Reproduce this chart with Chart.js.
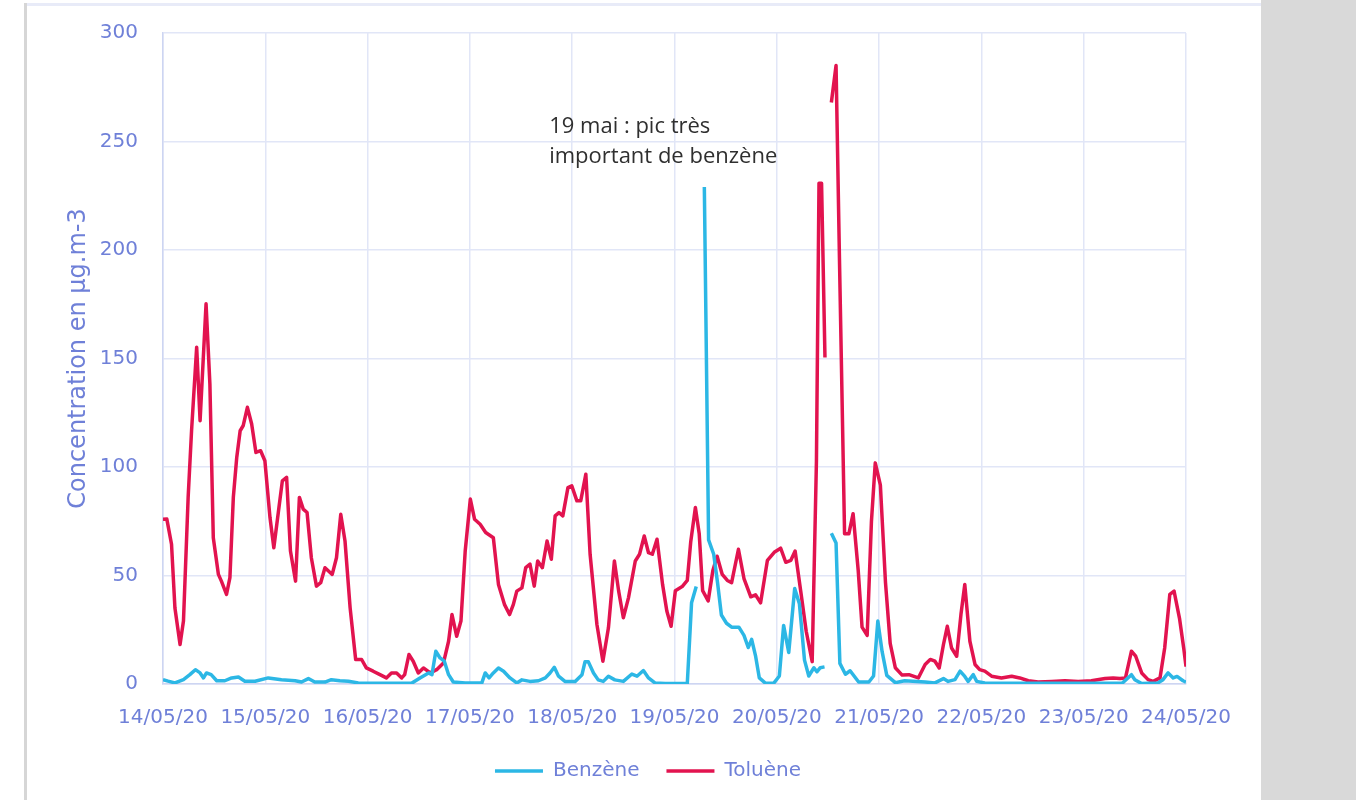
<!DOCTYPE html>
<html lang="fr">
<head>
<meta charset="utf-8">
<title>Benzène et toluène</title>
<script src="https://cdn.jsdelivr.net/npm/chart.js@4"></script>
<style>
  html, body { margin: 0; padding: 0; background: #fff; }
  body { width: 1356px; height: 800px; position: relative; overflow: hidden; }
  #side { position: absolute; left: 1261px; top: 0; width: 95px; height: 800px; background: #d9d9d9; }
  #edge { position: absolute; left: 24px; top: 3px; width: 3px; height: 797px; background: #d6d6d6; }
  #topline { position: absolute; left: 27px; top: 3px; width: 1234px; height: 3px; background: #e8ebf8; }
  #chart { position: absolute; left: 0; top: 0; }
</style>
</head>
<body>
<div id="side"></div>
<div id="edge"></div>
<div id="topline"></div>
<canvas id="chart" width="1356" height="800"></canvas>
<script>
// hours since 14/05/20 00:00
const dayLabels = ["14/05/20", "15/05/20", "16/05/20", "17/05/20", "18/05/20", "19/05/20",
  "20/05/20", "21/05/20", "22/05/20", "23/05/20", "24/05/20"];

const benzeneHours = [0, 1.2, 2.8, 4.8, 6.3, 7.6, 8.7, 9.5, 10.2, 11.3, 12.6, 14.5, 16.1, 17.7, 19.2,
  21.6, 24.7, 27.8, 31, 32.5, 34.1, 35.6, 38, 39.5, 41.5, 43.5, 45.8, 49.7, 53.6, 58.3, 60.3,
  62.3, 63.1, 64, 65, 66, 67, 68.1, 70.9, 74.8, 75.6, 76.5, 77.5, 78.7, 79.9, 81.4, 83, 84.2,
  86.1, 88.1, 89.7, 90.8, 91.8, 92.8, 94.3, 96.7, 98.3, 99, 99.8, 101, 102.1, 103.3, 104.5, 106,
  108, 110, 111.2, 112.7, 113.9, 115.4, 117.8, 120.6, 123, 124, 125.1, 126, 127, 128, 129.2,
  130.1, 131, 132.2, 133.4, 135.1, 136.3, 137.3, 138.1, 139, 139.9, 141.3, 143.3, 144.6, 145.6,
  146.8, 148.2, 149.3, 150.5, 151.5, 152.7, 153.4, 154.2, 155.2, 156, 156.8, 157.9, 158.8, 160.1,
  161.2, 163.2, 165.6, 166.7, 167.7, 168.7, 169.8, 171.8, 174, 178.8, 181.1, 183.1, 184.2, 185.8,
  187, 188.1, 188.9, 190.1, 190.9, 192.8, 196.7, 210, 225, 227.2, 228, 229.6, 233.4, 234.6,
  235.8, 237, 237.9, 239.3, 240];
const benzeneValues = [2, 1.3, 0.5, 2, 4.3, 6.6, 5.1, 2.8, 5.1, 4.3, 1.5, 1.5, 2.8, 3.2, 1.3,
  1.3, 2.8, 2, 1.5, 0.9, 2.5, 0.9, 0.9, 2, 1.5, 1.3, 0.5, 0.3, 0.3, 0.3, 2.8,
  5.1, 4.3, 15.1, 12, 10.5, 4.3, 0.9, 0.5, 0.5, 5.1, 2.8, 5.1, 7.4, 5.9, 2.8, 0.5, 1.9,
  1.2, 1.5, 2.8, 5.1, 7.7, 3.6, 1.2, 1.2, 4.3, 10.2, 10.2, 5.1, 1.9, 1.2, 3.6, 1.9,
  1.2, 4.6, 3.6, 6.2, 2.8, 0.5, 0.2, 0.2, 0.2, 37.4, 44.9, null, 229, 66.4, 59.8,
  46.7, 31.8, 28, 26.2, 26.2, 22.4, 16.8, 20.6, 13.1, 2.8, 0.4, 0.4, 3.7, 27,
  14.5, 44, 37, 11, 3.7, 7.5, 5.6, 7.5, 7.9, null, 69.5, 65, 9.5, 4.5,
  6.1, 0.9, 0.9, 3.7, 29, 15, 4, 0.6, 1.5, 0.9, 0.5, 2.5, 1.2, 2,
  5.9, 3.5, 1.2, 4.3, 1.2, 0.5, 0.3, 0.3, 0.3, 4.3, 2, 0.2, 0.5, 2,
  5.1, 2.8, 3.5, 1.5, 0.9];

const tolueneHours = [0, 0.9, 2, 2.8, 4, 4.8, 5.9, 6.7, 7.9, 8.7, 10.1, 11, 11.8, 13, 13.7, 14.9,
  15.7, 16.5, 17.3, 18.1, 18.8, 19.8, 20.8, 21.8, 22.9, 23.9, 25.1, 26, 27.2, 28, 29, 29.9, 31.1,
  32, 32.9, 33.8, 34.8, 36, 37, 38, 39.7, 40.7, 41.7, 42.7, 43.9, 45.2, 46.6, 47.7, 49.3, 50.9,
  52.4, 53.6, 54.8, 56, 56.7, 57.7, 58.7, 59.9, 61.1, 62.7, 64.2, 65.8, 67, 67.8, 68.9, 69.9,
  70.9, 72.1, 73.1, 74.4, 75.7, 77.5, 78.7, 80.1, 81.3, 82.2, 83, 84.2, 85.1, 86.1, 87.1, 87.9,
  89, 90.1, 91.1, 92, 92.9, 93.8, 95, 95.9, 97.1, 98, 99.2, 100.2, 101.8, 103.2, 104.5, 105.9,
  106.9, 108, 109.2, 110.8, 111.8, 112.9, 113.9, 114.8, 115.9, 117.2, 118.2, 119.2, 120.2, 121.8,
  123, 123.8, 124.9, 125.8, 126.6, 127.9, 129, 130, 131.2, 132.4, 133.4, 135, 136.3, 137.9, 139,
  140.2, 141.8, 143.4, 144.9, 146.1, 147.3, 148.3, 149.6, 150.9, 152.3, 153.3, 153.9, 154.5,
  155.3, 156, 156.8, 157.9, 158.7, 159.9, 160.9, 161.9, 163.1, 164, 165.2, 166.2, 167.1, 168.3,
  169.5, 170.6, 171.8, 173.4, 175, 177.2, 178.8, 180, 181.1, 182.1, 183.1, 184, 185, 186.2,
  187.2, 188.1, 189.3, 190.5, 191.6, 192.8, 194.4, 196.7, 199.1, 201, 203, 205.3, 208.5, 211.6,
  214.7, 217.8, 221, 222.9, 224.5, 225.8, 227.2, 228.2, 229.6, 231.1, 232.3, 233.9, 235, 236.2,
  237.2, 238.5, 239.5, 240];
const tolueneValues = [75.9, 76, 64.4, 35, 18.2, 29, 86, 116.7, 155.2, 121.3, 175.2, 138.3, 67.4,
  50.5, 47.4, 41.3, 49, 86, 104.4, 116.7, 119, 127.5, 119.8, 106.7, 107.5, 102.9, 76.7, 62.8,
  81.3, 93.6, 95.2, 61.3, 47.4, 86, 80.6, 79, 58.2, 45.1, 46.7, 53.6, 50.5, 58.2, 78.2, 65.9,
  35.1, 11.3, 11.3, 7.4, 5.9, 4.3, 2.8, 5.1, 5.1, 2.8, 4.3, 13.6, 10.5, 5.1, 7.4, 5.1, 6.6, 9.7,
  19.7, 32, 22, 29, 61.3, 85.2, 75.9, 73.6, 69.8, 67.4, 45.9, 36.7, 32, 36.7, 42.8, 44.3, 53.6,
  55.2, 45.1, 56.7, 53.6, 65.9, 57.5, 77.5, 79, 77.5, 90.5, 91.3, 84.4, 84.4, 96.7, 59.8, 27.4,
  10.5, 25.9, 56.7, 42.8, 30.5, 39.7, 56.7, 59.8, 68.2, 60.5, 59.8, 66.7, 45.9, 33.6, 26.6, 43,
  44.9, 47.7, 65.4, 81.3, 69.2, 43, 38.3, 52.3, 58.9, 50.5, 47.7, 46.7, 62.1, 48.6, 40.2, 41.1,
  37.4, 57, 60.7, 62.6, 56.1, 57, 61.3, 43, 24.3, 10.3, 102.8, 230.8, 230.8, 150.5, null, 268,
  285, 196, 69.2, 69.2, 78.5, 52.3, 26.2, 22.4, 74.8, 101.9, 91.6, 46.7, 18.7, 7.5, 4.1, 4.3,
  2.8, 9, 11.3, 10.5, 7.4, 18.2, 26.6, 16.6, 12.8, 32, 45.9, 19.7, 9, 6.6, 5.9, 3.6, 2.8, 3.6,
  2.8, 1.5, 0.9, 1.2, 1.5, 1.2, 1.5, 2.5, 2.8, 2.5, 2.8, 15.1, 12.8, 5.1, 2, 1.2, 2.8, 16.6,
  41.3, 42.8, 30, 16, 8];

const noteLines = ["19 mai : pic très", "important de benzène"];
const noteHour = 90.6;
const noteLevels = [257, 243];

const toPoints = (hours, values) => hours.map((h, i) => ({ x: h, y: values[i] }));

const axisColor = '#6f80d8';
const gridColor = '#e1e6f7';
const family = '"DejaVu Sans", sans-serif';

const legendShift = {
  id: 'legendShift',
  beforeDraw(chart) {
    chart.legend.left = 110;
  }
};

const noteLabel = {
  id: 'noteLabel',
  afterDatasetsDraw(chart) {
    const { ctx, scales: { x, y } } = chart;
    ctx.save();
    ctx.font = '22px "Open Sans", sans-serif';
    ctx.fillStyle = '#2f2f2f';
    ctx.textBaseline = 'middle';
    noteLines.forEach((line, i) => {
      ctx.fillText(line, x.getPixelForValue(noteHour), y.getPixelForValue(noteLevels[i]));
    });
    ctx.restore();
  }
};

const ctx = document.getElementById('chart').getContext('2d');
new Chart(ctx, {
  type: 'line',
  data: {
    datasets: [{
      label: 'Benzène',
      data: toPoints(benzeneHours, benzeneValues),
      borderColor: '#2cb7e5',
      backgroundColor: '#2cb7e5',
      borderWidth: 3.5,
      borderJoinStyle: 'round',
      pointRadius: 0,
      tension: 0,
      spanGaps: false
    }, {
      label: 'Toluène',
      data: toPoints(tolueneHours, tolueneValues),
      borderColor: '#e2134f',
      backgroundColor: '#e2134f',
      borderWidth: 3.5,
      borderJoinStyle: 'round',
      pointRadius: 0,
      tension: 0,
      spanGaps: false
    }]
  },
  options: {
    responsive: false,
    animation: false,
    layout: { padding: { left: 0, right: 170, top: 33, bottom: 9 } },
    plugins: {
      legend: {
        position: 'bottom',
        labels: {
          usePointStyle: true,
          pointStyle: 'line',
          pointStyleWidth: 48,
          padding: 27,
          color: axisColor,
          font: { family, size: 20 }
        }
      },
      tooltip: { enabled: false }
    },
    scales: {
      x: {
        type: 'linear',
        min: 0,
        max: 240,
        afterFit: s => { s.height = 50; },
        grid: { color: gridColor, lineWidth: 1.5, drawTicks: false },
        border: { color: '#cdd5f2', width: 1.5 },
        ticks: {
          stepSize: 24,
          autoSkip: false,
          maxRotation: 0,
          padding: 22,
          color: axisColor,
          font: { family, size: 20 },
          callback: v => dayLabels[Math.round(v / 24)]
        }
      },
      y: {
        min: 0,
        max: 300,
        afterFit: s => {
          s.width = 163;
          s.paddingTop = 0;
          s.paddingBottom = 0;
        },
        grid: { color: gridColor, lineWidth: 1.5, drawTicks: false },
        border: { color: '#cdd5f2', width: 1.5 },
        ticks: {
          stepSize: 50,
          padding: 25,
          color: axisColor,
          font: { family, size: 20 }
        },
        title: {
          display: true,
          text: 'Concentration en µg.m-3',
          color: axisColor,
          font: { family, size: 24 },
          padding: { top: 64, bottom: 0 }
        }
      }
    }
  },
  plugins: [legendShift, noteLabel]
});
</script>
</body>
</html>
